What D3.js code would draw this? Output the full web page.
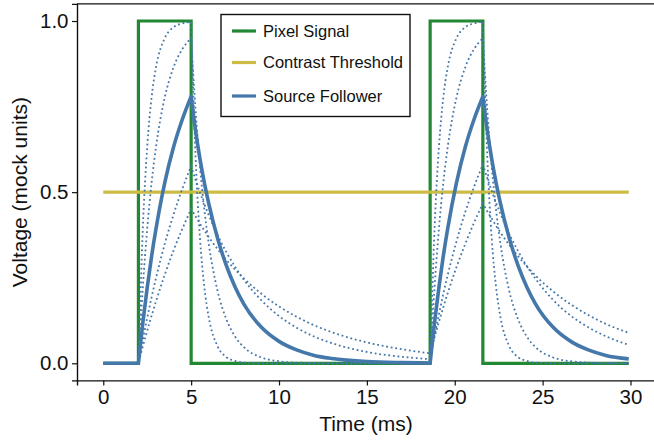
<!DOCTYPE html>
<html>
<head>
<meta charset="utf-8">
<script src="https://cdn.jsdelivr.net/npm/d3@7"></script>
<style>
  html, body { margin: 0; padding: 0; background: #fff; }
  svg { display: block; font-family: "Liberation Sans", Arial, Helvetica, sans-serif; }
</style>
</head>
<body>
<svg id="chart" width="654" height="440"></svg>
<script>
// ---- data ----
const times = [0, 2, 2.25, 2.5, 2.75, 3, 3.5, 4, 4.5, 5,
  5.25, 5.5, 5.75, 6, 6.5, 7, 7.5, 8, 9, 10, 11, 12, 13, 15, 17, 18.6,
  18.85, 19.1, 19.35, 19.6, 20.1, 20.6, 21.1, 21.6,
  21.85, 22.1, 22.35, 22.6, 23.1, 23.6, 24.1, 24.6, 25.6, 26.6, 27.6, 28.6, 29.9];

const sourceFollower = [0, 0, 0.118, 0.221, 0.313, 0.393, 0.528, 0.632, 0.713, 0.780,
  0.680, 0.598, 0.528, 0.467, 0.366, 0.286, 0.223, 0.173, 0.105, 0.064, 0.039, 0.023, 0.014, 0.005, 0.002, 0.001,
  0.119, 0.222, 0.314, 0.394, 0.528, 0.632, 0.713, 0.780,
  0.680, 0.598, 0.528, 0.467, 0.366, 0.286, 0.223, 0.173, 0.105, 0.064, 0.039, 0.023, 0.013];

const variantFast = [0, 0, 0.393, 0.632, 0.777, 0.865, 0.950, 0.982, 0.993, 0.998,
  0.605, 0.367, 0.223, 0.135, 0.050, 0.018, 0.007, 0.002, 0, 0, 0, 0, 0, 0, 0, 0,
  0.393, 0.632, 0.777, 0.865, 0.950, 0.982, 0.993, 0.998,
  0.605, 0.367, 0.223, 0.135, 0.050, 0.018, 0.007, 0.002, 0, 0, 0, 0, 0];

const variantQuick = [0, 0, 0.221, 0.393, 0.528, 0.632, 0.777, 0.865, 0.918, 0.950,
  0.740, 0.576, 0.449, 0.350, 0.212, 0.129, 0.078, 0.047, 0.017, 0.006, 0.002, 0.001, 0, 0, 0, 0,
  0.221, 0.393, 0.528, 0.632, 0.777, 0.865, 0.918, 0.950,
  0.740, 0.576, 0.449, 0.350, 0.212, 0.129, 0.078, 0.047, 0.017, 0.006, 0.002, 0.001, 0];

const variantSlow = [0, 0, 0.069, 0.133, 0.193, 0.249, 0.349, 0.435, 0.510, 0.576,
  0.536, 0.499, 0.465, 0.433, 0.375, 0.325, 0.282, 0.244, 0.184, 0.138, 0.104, 0.078, 0.059, 0.033, 0.019, 0.012,
  0.080, 0.143, 0.203, 0.258, 0.356, 0.442, 0.516, 0.581,
  0.541, 0.504, 0.469, 0.437, 0.378, 0.328, 0.284, 0.247, 0.185, 0.139, 0.105, 0.079, 0.054];

const variantSlowest = [0, 0, 0.049, 0.095, 0.139, 0.181, 0.259, 0.330, 0.393, 0.451,
  0.429, 0.408, 0.388, 0.369, 0.334, 0.302, 0.274, 0.248, 0.203, 0.166, 0.136, 0.111, 0.091, 0.061, 0.041, 0.029,
  0.076, 0.121, 0.164, 0.205, 0.281, 0.349, 0.411, 0.467,
  0.444, 0.423, 0.402, 0.382, 0.346, 0.313, 0.283, 0.256, 0.210, 0.172, 0.141, 0.115, 0.089];

const pixelTimes  = [0, 2, 2, 5, 5, 18.6, 18.6, 21.6, 21.6, 29.9];
const pixelValues = [0, 0, 1, 1, 0, 0,    1,    1,    0,    0];

const thresholdTimes  = [0, 29.9];
const thresholdValues = [0.5, 0.5];

const xTicks = [0, 5, 10, 15, 20, 25, 30];
const yTicks = [0, 0.5, 1.0];

const legendLabels = ["Pixel Signal", "Contrast Threshold", "Source Follower"];
const colors = { green: "#228833", yellow: "#CCBB44", blue: "#4477AA" };

// ---- chart ----
const svg = d3.select("#chart");
const mLeft = 77, mRight = 655, mTop = 3.9, mBottom = 380.4;
const x = d3.scaleLinear().domain([-1.495, 31.395]).range([mLeft, mRight]);
const y = d3.scaleLinear().domain([-0.05, 1.05]).range([mBottom, mTop]);

const zip = (ts, vs) => ts.map((t, i) => ({ t, v: vs[i] }));
const linear = d3.line().x(d => x(d.t)).y(d => y(d.v));
const smooth = d3.line().x(d => x(d.t)).y(d => y(d.v)).curve(d3.curveMonotoneX);

// split smooth curves at pulse edges so corners stay sharp
const edges = [2, 5, 18.6, 21.6];
function responsePath(vals) {
  const pts = zip(times, vals);
  const cuts = [0, ...edges.map(e => times.indexOf(e)), times.length - 1];
  let d = "";
  for (let k = 0; k < cuts.length - 1; k++) {
    const seg = pts.slice(cuts[k], cuts[k + 1] + 1);
    let p = smooth(seg);
    if (k > 0) p = "L" + p.slice(1);
    d += p;
  }
  return d;
}

// axes
const yAxis = d3.axisLeft(y).tickValues(yTicks).tickFormat(d3.format(".1f")).tickSizeOuter(0).tickSize(5).tickPadding(3.5);
const xAxis = d3.axisBottom(x).tickValues(xTicks).tickFormat(d3.format("d")).tickSizeOuter(0).tickSize(5).tickPadding(4);

const gy = svg.append("g").attr("transform", `translate(${mLeft},0)`).call(yAxis);
const gx = svg.append("g").attr("transform", `translate(0,${mBottom})`).call(xAxis);
[gx, gy].forEach(g => {
  g.selectAll("path.domain").attr("stroke", "#111").attr("stroke-width", 1.4);
  g.selectAll(".tick line").attr("stroke", "#111").attr("stroke-width", 1.2);
  g.selectAll(".tick text").attr("fill", "#111").style("font-size", "20.5px")
    .style("font-family", "'Liberation Sans', Arial, sans-serif");
});
// top spine
svg.append("line").attr("x1", mLeft).attr("x2", mRight).attr("y1", mTop).attr("y2", mTop)
  .attr("stroke", "#111").attr("stroke-width", 1.4);

// axis labels
svg.append("text").attr("x", (mLeft + mRight) / 2).attr("y", 431)
  .attr("text-anchor", "middle").attr("fill", "#111").style("font-size", "21px").text("Time (ms)");
svg.append("text").attr("transform", `translate(27,${(mTop + mBottom) / 2}) rotate(-90)`)
  .attr("text-anchor", "middle").attr("fill", "#111").style("font-size", "21px").text("Voltage (mock units)");

// series
const plot = svg.append("g");
plot.append("path").attr("d", linear(zip(pixelTimes, pixelValues)))
  .attr("fill", "none").attr("stroke", colors.green).attr("stroke-width", 3.2).attr("stroke-linejoin", "miter");
plot.append("path").attr("d", linear(zip(thresholdTimes, thresholdValues)))
  .attr("fill", "none").attr("stroke", colors.yellow).attr("stroke-width", 3.2);

[variantFast, variantQuick, variantSlow, variantSlowest].forEach(vals => {
  plot.append("path").attr("d", responsePath(vals))
    .attr("fill", "none").attr("stroke", colors.blue).attr("stroke-width", 1.8)
    .attr("stroke-dasharray", "1.8,2.8");
});
plot.append("path").attr("d", responsePath(sourceFollower))
  .attr("fill", "none").attr("stroke", colors.blue).attr("stroke-width", 3.6).attr("stroke-linejoin", "round");

// legend
const lg = svg.append("g");
lg.append("rect").attr("x", 221).attr("y", 14.5).attr("width", 189).attr("height", 102)
  .attr("fill", "#fff").attr("stroke", "#111").attr("stroke-width", 1.4);
const legendColors = [colors.green, colors.yellow, colors.blue];
const rowY = [31, 62.5, 96];
legendLabels.forEach((lab, i) => {
  lg.append("line").attr("x1", 232).attr("x2", 256).attr("y1", rowY[i]).attr("y2", rowY[i])
    .attr("stroke", legendColors[i]).attr("stroke-width", 3.2);
  lg.append("text").attr("x", 263).attr("y", rowY[i]).attr("dy", "0.35em")
    .attr("fill", "#111").style("font-size", "16.5px").text(lab);
});
</script>
</body>
</html>
